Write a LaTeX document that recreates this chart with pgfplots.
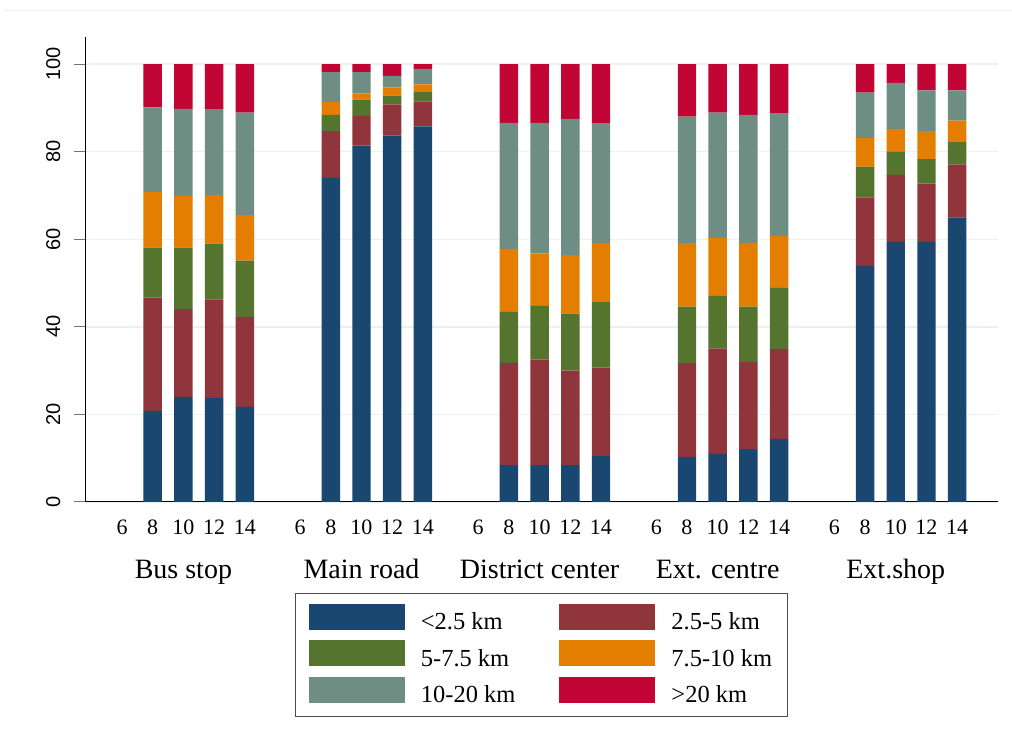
\documentclass[border=0pt]{standalone}
\usepackage{fontspec}
\setmainfont{Liberation Serif}
\newfontfamily\arial{Liberation Sans}
\usepackage{pgfplots}
\pgfplotsset{compat=1.18}
\usepackage{pgfplotstable}
\definecolor{cA}{RGB}{26,71,111}
\definecolor{cB}{RGB}{144,53,59}
\definecolor{cC}{RGB}{85,117,47}
\definecolor{cD}{RGB}{227,126,0}
\definecolor{cE}{RGB}{110,142,132}
\definecolor{cF}{RGB}{193,5,52}
\definecolor{gridc}{RGB}{234,241,243}

\pgfplotstableread{
x    a    b    c    d    e    f
1    20.8 25.9 11.4 12.7 19.3 9.9
2    24.0 20.1 14.0 11.8 19.9 10.2
3    23.7 22.6 12.7 11.1 19.5 10.4
4    21.7 20.6 12.8 10.4 23.4 11.1
6.8  74.0 10.7 3.7  2.9  6.9  1.8
7.8  81.4 6.8  3.7  1.4  4.9  1.8
8.8  83.7 7.1  2.0  1.9  2.6  2.7
9.8  85.8 5.7  2.1  1.8  3.5  1.1
12.6 8.4  23.4 11.6 14.4 28.8 13.4
13.6 8.4  24.1 12.3 12.0 29.8 13.4
14.6 8.4  21.6 13.0 13.4 31.1 12.5
15.6 10.5 20.2 15.1 13.3 27.3 13.6
18.4 10.3 21.4 12.9 14.5 28.9 12.0
19.4 11.0 24.1 12.0 13.2 28.6 11.1
20.4 12.1 19.9 12.6 14.6 29.2 11.6
21.4 14.4 20.5 14.1 11.8 27.9 11.3
24.2 53.9 15.7 7.0  6.5  10.4 6.5
25.2 59.4 15.3 5.4  5.1  10.5 4.3
26.2 59.4 13.3 5.6  6.4  9.3  6.0
27.2 65.0 12.1 5.1  4.9  6.9  6.0
}\data

\pgfplotsset{
  sw/.style={fill=#1, draw=none,
    legend image code/.code={\fill[fill=#1] (0pt,-8pt) rectangle (96pt,18pt);}},
}

\begin{document}
\begin{tikzpicture}
\path[use as bounding box] (0,0) rectangle (1012pt,744pt);
\draw[gridc, line width=1pt] (5pt,733pt) -- (1012pt,733pt);
\begin{axis}[
  at={(85pt,242pt)}, anchor=south west,
  scale only axis, width=913pt, height=465pt,
  xmin=-1.205, xmax=28.53, ymin=0, ymax=106.2,
  ybar stacked, bar width=0.6,
  axis x line*=bottom, axis y line*=left,
  axis line style={-, black, line width=1pt},
  ytick={0,20,40,60,80,100},
  ymajorgrids, grid style={gridc, line width=1.3pt},
  tick align=outside, major tick length=11pt,
  y tick style={black!55, line width=1pt},
  x tick style={draw=none},
  xtick={0,1,2,3,4,5.8,6.8,7.8,8.8,9.8,11.6,12.6,13.6,14.6,15.6,17.4,18.4,19.4,20.4,21.4,23.2,24.2,25.2,26.2,27.2},
  xticklabels={6,8,10,12,14,6,8,10,12,14,6,8,10,12,14,6,8,10,12,14,6,8,10,12,14},
  /pgf/number format/assume math mode=true,
  xticklabel style={font=\fontsize{22pt}{26pt}\selectfont, anchor=base, yshift=-22pt},
  yticklabel style={font=\arial\fontsize{20pt}{24pt}\selectfont, xshift=-14pt, rotate=90, anchor=base},
  clip=false,
  legend style={at={(0.5,-0.1957)}, anchor=north, draw=black!70, line width=1.2pt,
    font=\fontsize{24.5pt}{28pt}\selectfont, inner xsep=13pt, inner ysep=10pt,
    row sep=7.5pt,
    /tikz/every odd column/.append style={column sep=14pt},
    /tikz/every even column/.append style={column sep=42pt}},
  legend columns=2, legend cell align=left,
]
\addplot[sw=cA] table[x=x,y=a]{\data};
\addplot[sw=cB] table[x=x,y=b]{\data};
\addplot[sw=cC] table[x=x,y=c]{\data};
\addplot[sw=cD] table[x=x,y=d]{\data};
\addplot[sw=cE] table[x=x,y=e]{\data};
\addplot[sw=cF] table[x=x,y=f]{\data};
\legend{{<2.5 km},{2.5-5 km},{5-7.5 km},{7.5-10 km},{10-20 km},{>20 km}}
\path (axis cs:2,0) ++(0pt,-77pt) node[anchor=base, font=\fontsize{28pt}{32pt}\selectfont] {Bus stop};
\path (axis cs:7.8,0) ++(0pt,-77pt) node[anchor=base, font=\fontsize{28pt}{32pt}\selectfont] {Main road};
\path (axis cs:13.6,0) ++(0pt,-77pt) node[anchor=base, font=\fontsize{28pt}{32pt}\selectfont] {District center};
\path (axis cs:19.4,0) ++(0pt,-77pt) node[anchor=base, font=\fontsize{28pt}{32pt}\selectfont] {Ext. centre};
\path (axis cs:25.2,0) ++(0pt,-77pt) node[anchor=base, font=\fontsize{28pt}{32pt}\selectfont] {Ext.shop};
\end{axis}
\end{tikzpicture}
\end{document}
